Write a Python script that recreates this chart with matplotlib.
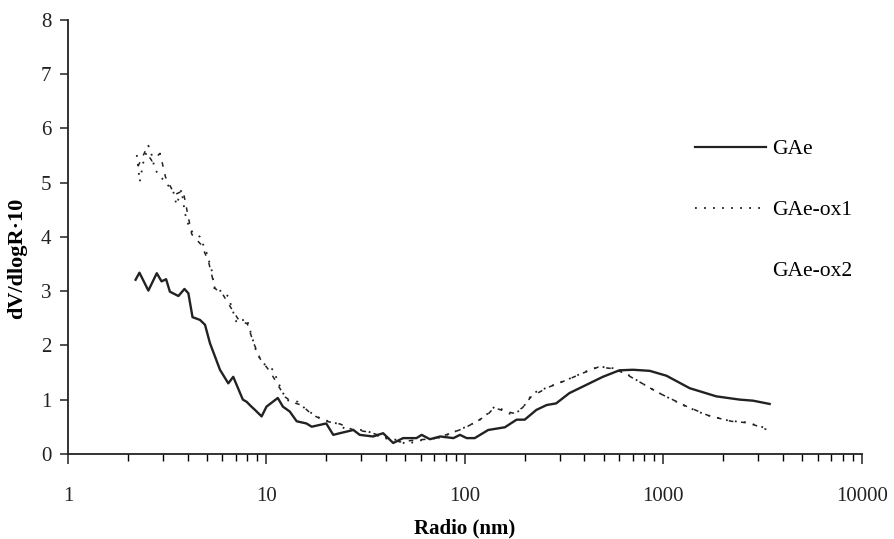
import matplotlib
matplotlib.use("Agg")
import matplotlib.pyplot as plt
from matplotlib.lines import Line2D
from matplotlib.ticker import LogLocator, FixedLocator, NullFormatter

plt.rcParams['font.family'] = ['Liberation Serif', 'DejaVu Serif']

# GAe (solid)
gae_r = [2.19, 2.29, 2.54, 2.80, 2.96, 3.12, 3.26, 3.60, 3.86, 4.04, 4.24, 4.62, 4.90, 5.19,
         5.83, 6.42, 6.80, 7.6, 7.94, 8.4, 8.75, 9.45, 10.0, 11.4, 12.1, 13.1, 14.2, 15.9,
         16.9, 20.0, 21.7, 23.4, 27.4, 29.5, 34.4, 38.7, 43.5, 48.8, 57, 60.5, 66.6, 75,
         87.5, 94.4, 102, 112, 131, 159, 182, 200, 229, 258, 288, 336, 408, 495, 600, 704,
         854, 1036, 1357, 1847, 2420, 2830, 3428]
gae_v = [3.21, 3.34, 3.01, 3.33, 3.18, 3.22, 2.99, 2.91, 3.04, 2.96, 2.52, 2.47, 2.38, 2.04,
         1.55, 1.30, 1.42, 1.00, 0.96, 0.87, 0.81, 0.69, 0.87, 1.03, 0.87, 0.78, 0.60, 0.56,
         0.50, 0.56, 0.35, 0.38, 0.44, 0.35, 0.32, 0.38, 0.20, 0.29, 0.29, 0.35, 0.27, 0.32,
         0.29, 0.35, 0.29, 0.29, 0.44, 0.49, 0.63, 0.63, 0.81, 0.90, 0.93, 1.12, 1.27, 1.42,
         1.54, 1.55, 1.53, 1.44, 1.21, 1.06, 1.00, 0.98, 0.92]

# GAe-ox1 (dotted)
ox1_r = [2.22, 2.30, 2.39, 2.54, 2.64, 2.74, 3.02, 3.39, 3.52, 3.73, 3.88, 4.11, 4.62, 5.0,
         5.29, 5.5, 5.95, 6.42, 7.08, 7.94, 8.25, 8.92, 9.6, 10.8, 11.7, 12.6, 14.4, 15.9,
         17.9, 19.3, 22.6, 25.4, 31.3, 38.7, 45, 50.6, 60, 75, 89, 106, 119, 131, 141, 150,
         168, 185, 200, 220, 267, 324, 408, 474, 554, 624, 755, 918, 1253, 1634, 2142,
         2612, 3316]
ox1_v = [5.51, 5.02, 5.36, 5.68, 5.51, 5.24, 5.05, 4.84, 4.59, 4.87, 4.44, 4.13, 4.00, 3.70,
         3.39, 2.99, 3.01, 2.90, 2.41, 2.50, 2.29, 1.86, 1.67, 1.55, 1.24, 0.99, 0.96, 0.81,
         0.69, 0.63, 0.56, 0.44, 0.44, 0.29, 0.26, 0.18, 0.25, 0.30, 0.41, 0.53, 0.63, 0.75,
         0.87, 0.84, 0.74, 0.78, 0.90, 1.12, 1.24, 1.36, 1.52, 1.61, 1.58, 1.52, 1.33, 1.15,
         0.90, 0.72, 0.61, 0.58, 0.47]

# GAe-ox2 (dashed, no legend line)
ox2_r = [2.25, 2.45, 2.65, 2.91, 3.10, 3.45, 3.80, 4.2, 4.7, 5.1, 5.5, 6.0, 6.6, 7.3, 8.0,
         8.6, 9.3, 10.5, 11.4, 12.4, 13.5, 15, 17, 20, 23.5, 27, 33, 40, 47, 55, 70, 85,
         100, 115, 130, 140, 155, 175, 195, 215, 260, 320, 400, 470, 560, 640, 780, 950,
         1300, 1700, 2200, 2700, 3300]
ox2_v = [5.30, 5.58, 5.40, 5.54, 5.10, 4.78, 4.85, 4.05, 3.85, 3.55, 3.05, 2.95, 2.70, 2.45,
         2.40, 2.05, 1.75, 1.50, 1.27, 1.05, 0.95, 0.90, 0.72, 0.60, 0.55, 0.45, 0.40, 0.30,
         0.22, 0.25, 0.28, 0.38, 0.48, 0.60, 0.72, 0.85, 0.80, 0.75, 0.85, 1.05, 1.22, 1.35,
         1.50, 1.60, 1.57, 1.48, 1.30, 1.12, 0.88, 0.70, 0.60, 0.57, 0.45]

fig = plt.figure(figsize=(8.95, 5.39), dpi=100)
ax = fig.add_axes([0.076, 0.158, 0.887, 0.805])

ax.plot(gae_r, gae_v, color='#222222', lw=1.7, label='GAe')
ax.plot(ox1_r, ox1_v, color='#222222', lw=1.3, linestyle=(0, (1, 4)), label='GAe-ox1')
ax.plot(ox2_r, ox2_v, color='#222222', lw=1.1, linestyle=(0, (3, 5)))

ax.set_xscale('log')
ax.set_xlim(1, 10000)
ax.set_ylim(0, 8)
ax.set_yticks(range(0, 9))
ax.xaxis.set_major_locator(FixedLocator([1, 10, 100, 1000, 10000]))
ax.set_xticklabels(['1', '10', '100', '1000', '10000'])
ax.xaxis.set_minor_locator(LogLocator(base=10, subs=range(2, 10)))
ax.xaxis.set_minor_formatter(NullFormatter())

for s in ['top', 'right']:
    ax.spines[s].set_visible(False)
for s in ['left', 'bottom']:
    ax.spines[s].set_linewidth(1.3)
    ax.spines[s].set_color('#222222')

ax.tick_params(axis='y', direction='out', length=6, width=1.1, labelsize=15, pad=6, colors='#222222')
ax.tick_params(axis='x', which='major', direction='out', length=7, width=1.1, labelsize=15, pad=17, colors='#222222')
ax.tick_params(axis='x', which='minor', direction='out', length=5, width=1.0)

ax.set_xlabel('Radio (nm)', fontsize=15, fontweight='bold', labelpad=9)
ax.set_ylabel('dV/dlogR·10', fontsize=16, fontweight='bold')
ax.yaxis.set_label_coords(-0.052, 0.45)

handles = [Line2D([], [], color='#222222', lw=1.6),
           Line2D([], [], color='#222222', lw=1.3, linestyle=(0, (1, 4))),
           Line2D([], [], linestyle='none')]
ax.legend(handles, ['GAe', 'GAe-ox1', 'GAe-ox2'], frameon=False, fontsize=15.5,
          loc='upper left', bbox_to_anchor=(0.765, 0.77), handlelength=3.3,
          handletextpad=0.3, labelspacing=1.9)

fig.savefig('out.png', dpi=100)
